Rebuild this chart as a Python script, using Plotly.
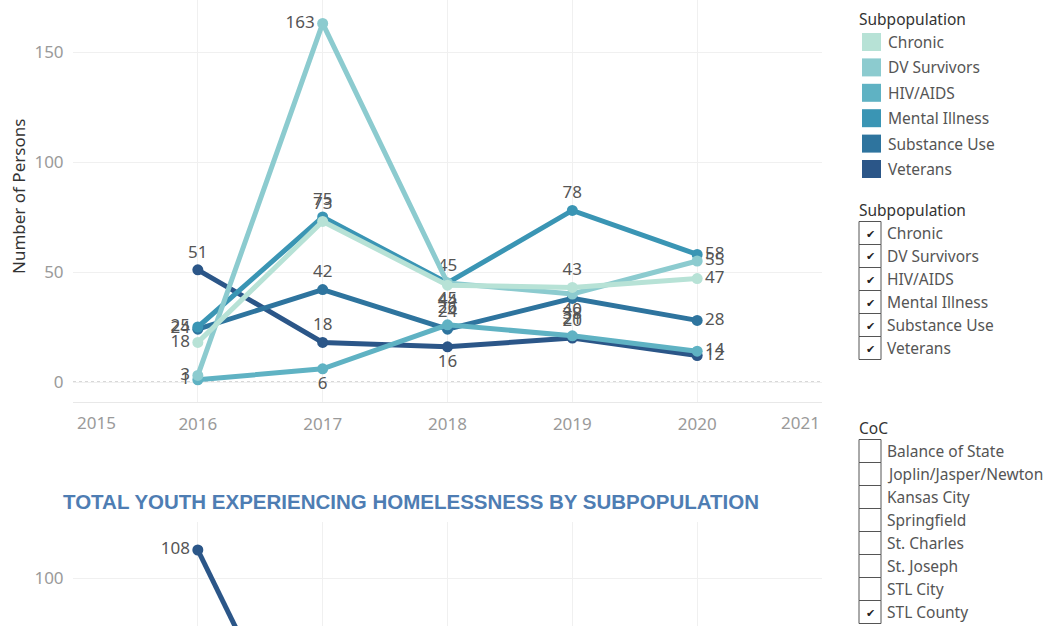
import plotly.graph_objects as go

# ---- data -------------------------------------------------------------
years = [2016, 2017, 2018, 2019, 2020]
subpops = ["Chronic", "DV Survivors", "HIV/AIDS", "Mental Illness", "Substance Use", "Veterans"]
colors = ["#b7e2d6", "#8ccbcf", "#5fb2c3", "#3a95b4", "#2e749e", "#2b5688"]

chronic = [18, 73, 44, 43, 47]
dv_survivors = [3, 163, 45, 40, 55]
hiv_aids = [1, 6, 26, 21, 14]
mental_illness = [25, 75, 45, 78, 58]
substance_use = [24, 42, 24, 38, 28]
veterans = [51, 18, 16, 20, 12]
series = [chronic, dv_survivors, hiv_aids, mental_illness, substance_use, veterans]

# label placement for each point
label_pos = [
    ["middle left", "top center", "bottom center", "top center", "middle right"],
    ["middle left", "middle left", "bottom center", "bottom center", "middle right"],
    ["middle left", "bottom center", "top center", "top center", "middle right"],
    ["middle left", "top center", "top center", "top center", "middle right"],
    ["middle left", "top center", "top center", "bottom center", "middle right"],
    ["top center", "top center", "bottom center", "top center", "middle right"],
]

# youth chart (only the top of it is in view)
youth_years = [2016, 2017]
youth_veterans = [108, 35]

year_ticks = [2015, 2016, 2017, 2018, 2019, 2020, 2021]
coc_list = ["Balance of State", "Joplin/Jasper/Newton", "Kansas City", "Springfield",
            "St. Charles", "St. Joseph", "STL City", "STL County"]
coc_checked = ["STL County"]
youth_title = "TOTAL YOUTH EXPERIENCING HOMELESSNESS BY SUBPOPULATION"
y_title = "Number of Persons"

# ---- figure -----------------------------------------------------------
W, H = 1050, 626
FONT = "Noto Sans"
LABEL_GRAY = "#555555"
TICK_GRAY = "#9a9a9a"
GRID = "#f0f0f0"
NUM_SIZE = 17


def px(x):
    return x / W


def py(y):
    return 1 - y / H


fig = go.Figure()

# draw Veterans first so the lighter series sit on top
for i in reversed(range(len(subpops))):
    vals = series[i]
    fig.add_trace(go.Scatter(
        x=years, y=vals, name=subpops[i],
        mode="lines+markers+text",
        line=dict(color=colors[i], width=5),
        marker=dict(color=colors[i], size=11),
        text=[str(v) for v in vals],
        textposition=label_pos[i],
        textfont=dict(family=FONT, size=NUM_SIZE, color=LABEL_GRAY),
        cliponaxis=False,
        showlegend=False,
        xaxis="x", yaxis="y",
    ))

fig.add_trace(go.Scatter(
    x=youth_years, y=youth_veterans, name="Veterans",
    mode="lines+markers+text",
    line=dict(color=colors[5], width=5),
    marker=dict(color=colors[5], size=11),
    text=[str(youth_veterans[0]), ""],
    textposition=["middle left", "middle left"],
    textfont=dict(family=FONT, size=NUM_SIZE, color=LABEL_GRAY),
    cliponaxis=True,
    showlegend=False,
    xaxis="x2", yaxis="y2",
))

x_dom = [px(73), px(822)]
axis_common = dict(
    range=[2015, 2021],
    domain=x_dom,
    tickvals=year_ticks,
    showgrid=True, gridcolor=GRID, gridwidth=1,
    zeroline=False,
    automargin=False,
    tickfont=dict(family=FONT, size=NUM_SIZE, color=TICK_GRAY),
)

fig.update_layout(
    width=W, height=H,
    margin=dict(l=0, r=0, t=0, b=0, pad=0),
    autosize=False,
    paper_bgcolor="white", plot_bgcolor="white",
    showlegend=False,
    xaxis=dict(axis_common,
               ticktext=[""] + [str(y) for y in years] + [""],
               ticks="outside", ticklen=7, tickcolor="rgba(0,0,0,0)",
               showline=True, linecolor="#e8e8e8", linewidth=1,
               anchor="y"),
    yaxis=dict(
        domain=[py(402), 1],
        range=[-9.09, 173.64],
        tickvals=[0, 50, 100, 150],
        showgrid=True, gridcolor=GRID,
        zeroline=False, automargin=False,
        tickfont=dict(family=FONT, size=NUM_SIZE, color=TICK_GRAY),
        ticks="outside", ticklen=5, tickcolor="rgba(0,0,0,0)",
        anchor="x",
    ),
    xaxis2=dict(axis_common, ticktext=[""] * len(year_ticks), ticks="", anchor="y2"),
    yaxis2=dict(
        domain=[0, py(522)],
        range=[86.29, 116],
        tickvals=[100],
        showgrid=True, gridcolor=GRID,
        zeroline=False, automargin=False,
        tickfont=dict(family=FONT, size=NUM_SIZE, color=TICK_GRAY),
        ticks="outside", ticklen=5, tickcolor="rgba(0,0,0,0)",
        anchor="x2",
    ),
)

shapes = []
annotations = []

# dotted zero line
shapes.append(dict(type="line", xref="x", yref="y", x0=2015, x1=2021, y0=0, y1=0,
                   line=dict(color="#b0b0b0", width=1, dash="dot"), layer="below"))

# y-axis title
annotations.append(dict(x=px(18), y=py(197), xref="paper", yref="paper", text=y_title,
                        textangle=-90, xanchor="center", yanchor="middle", showarrow=False,
                        font=dict(family=FONT, size=17, color="#333333")))

# edge year labels sit inside the axis ends
annotations.append(dict(x=2015, y=py(423), xref="x", yref="paper", text=str(year_ticks[0]),
                        xanchor="left", yanchor="middle", showarrow=False, xshift=2,
                        font=dict(family=FONT, size=NUM_SIZE, color=TICK_GRAY)))
annotations.append(dict(x=2021, y=py(423), xref="x", yref="paper", text=str(year_ticks[-1]),
                        xanchor="right", yanchor="middle", showarrow=False, xshift=0,
                        font=dict(family=FONT, size=NUM_SIZE, color=TICK_GRAY)))

# youth chart title
annotations.append(dict(x=px(61), y=py(501), xref="paper", yref="paper", text=f"<b>{youth_title}</b>",
                        xanchor="left", yanchor="middle", showarrow=False,
                        font=dict(family="Liberation Sans", size=20.5, color="#4e7db3")))

# colour legend
annotations.append(dict(x=px(857), y=py(19), xref="paper", yref="paper", text="Subpopulation",
                        xanchor="left", yanchor="middle", showarrow=False,
                        font=dict(family=FONT, size=15.5, color="#333333")))
for i, name in enumerate(subpops):
    cy = 42 + i * 25.4
    shapes.append(dict(type="rect", xref="paper", yref="paper",
                       x0=px(862), x1=px(881), y0=py(cy + 9), y1=py(cy - 9),
                       fillcolor=colors[i], line=dict(width=0)))
    annotations.append(dict(x=px(886), y=py(cy), xref="paper", yref="paper", text=name,
                            xanchor="left", yanchor="middle", showarrow=False,
                            font=dict(family=FONT, size=15.5, color=LABEL_GRAY)))


def checklist(title, title_y, first_y, items, checked):
    annotations.append(dict(x=px(857), y=py(title_y), xref="paper", yref="paper", text=title,
                            xanchor="left", yanchor="middle", showarrow=False,
                            font=dict(family=FONT, size=15.5, color="#333333")))
    for j, name in enumerate(items):
        cy = first_y + j * 23
        shapes.append(dict(type="rect", xref="paper", yref="paper",
                           x0=px(859), x1=px(881), y0=py(cy + 11.5), y1=py(cy - 11.5),
                           fillcolor="white", line=dict(color="#555555", width=1)))
        if name in checked:
            annotations.append(dict(x=px(870), y=py(cy + 1), xref="paper", yref="paper", text="✔",
                                    xanchor="center", yanchor="middle", showarrow=False,
                                    font=dict(family="DejaVu Sans", size=11, color="#222222")))
        annotations.append(dict(x=px(885), y=py(cy), xref="paper", yref="paper", text=name,
                                xanchor="left", yanchor="middle", showarrow=False,
                                font=dict(family=FONT, size=15.5, color=LABEL_GRAY)))


checklist("Subpopulation", 210, 233, subpops, subpops)
checklist("CoC", 428, 451, coc_list, coc_checked)

fig.update_layout(shapes=shapes, annotations=annotations)

# pin the chart to the window's top-left corner so the page is exactly the figure size
page_js = (
    "document.documentElement.style.margin='0';"
    "document.body.style.margin='0';"
    "document.documentElement.style.overflow='hidden';"
    "document.body.style.overflow='hidden';"
    "var g=document.getElementById('{plot_id}');"
    "g.style.position='fixed';g.style.top='0';g.style.left='0';"
)
fig.write_html("out.html", post_script=page_js, config={"displayModeBar": False})
